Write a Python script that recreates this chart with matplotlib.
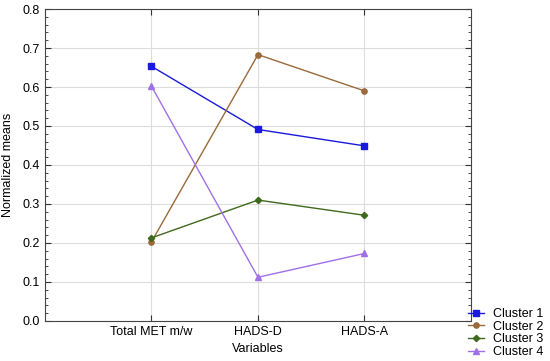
import matplotlib
matplotlib.use('Agg')
import matplotlib.pyplot as plt
from matplotlib.ticker import MultipleLocator

plt.rcParams['font.family'] = ['Liberation Sans', 'DejaVu Sans']

# データ
variables = ['Total MET m/w', 'HADS-D', 'HADS-A']
cluster1 = [0.653, 0.491, 0.449]
cluster2 = [0.203, 0.683, 0.590]
cluster3 = [0.213, 0.310, 0.271]
cluster4 = [0.602, 0.112, 0.173]

series = [
    ('Cluster 1', cluster1, '#1a1adc', 's', 4),
    ('Cluster 2', cluster2, '#9a6a3a', 'o', 3.8),
    ('Cluster 3', cluster3, '#3f6a1c', 'D', 3.2),
    ('Cluster 4', cluster4, '#a070e8', '^', 4),
]

fig = plt.figure(figsize=(5.5, 3.61), dpi=100)
ax = fig.add_axes([0.0818, 0.111, 0.7745, 0.864])

x = [1, 2, 3]
for name, vals, c, m, ms in series:
    ax.plot(x, vals, color=c, marker=m, markersize=ms, linewidth=1, label=name)

ax.set_xlim(0, 4)
ax.set_ylim(0, 0.8)
ax.set_xticks(x)
ax.set_xticklabels(variables)
ax.yaxis.set_major_locator(MultipleLocator(0.1))
ax.yaxis.set_minor_locator(MultipleLocator(0.02))
ax.grid(True, color='#dddddd', linewidth=0.8)
ax.set_axisbelow(True)
ax.tick_params(axis='both', which='both', direction='in', top=True, right=True,
               labelsize=9, colors='#333333', labelcolor='black')
ax.tick_params(which='major', length=4)
ax.tick_params(which='minor', length=2)
for s in ax.spines.values():
    s.set_color('#444444')

ax.set_xlabel('Variables', fontsize=9, labelpad=4)
ax.set_ylabel('Normalized means', fontsize=9, labelpad=6)

fig.legend(loc='lower right', bbox_to_anchor=(1.0, -0.011), fontsize=9, frameon=False,
           handlelength=1.3, handletextpad=0.7, labelspacing=0.05, borderaxespad=0.15)

fig.savefig('out.png', dpi=100)
